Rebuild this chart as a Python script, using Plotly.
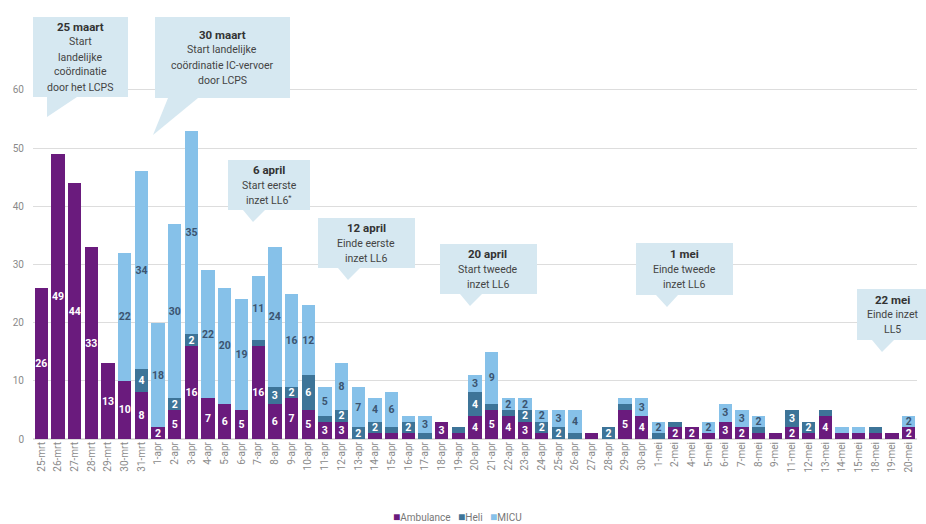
import plotly.graph_objects as go

categories = ["25-mrt", "26-mrt", "27-mrt", "28-mrt", "29-mrt", "30-mrt", "31-mrt",
              "1-apr", "2-apr", "3-apr", "4-apr", "5-apr", "6-apr", "7-apr", "8-apr", "9-apr", "10-apr",
              "11-apr", "12-apr", "13-apr", "14-apr", "15-apr", "16-apr", "17-apr", "18-apr", "19-apr", "20-apr",
              "21-apr", "22-apr", "23-apr", "24-apr", "25-apr", "26-apr", "27-apr", "28-apr", "29-apr", "30-apr",
              "1-mei", "2-mei", "4-mei", "5-mei", "6-mei", "7-mei", "8-mei", "9-mei", "11-mei", "12-mei",
              "13-mei", "14-mei", "15-mei", "18-mei", "19-mei", "20-mei"]

ambulance = [26, 49, 44, 33, 13, 10, 8,
             2, 5, 16, 7, 6, 5, 16, 6, 7, 5,
             3, 3, 0, 1, 1, 1, 0, 3, 1, 4,
             5, 4, 3, 1, 0, 0, 1, 0, 5, 4,
             0, 2, 2, 1, 3, 2, 1, 1, 2, 1,
             4, 1, 1, 1, 1, 2]

heli = [0, 0, 0, 0, 0, 0, 4,
        0, 2, 2, 0, 0, 0, 1, 3, 2, 6,
        1, 2, 2, 2, 1, 2, 1, 0, 1, 4,
        1, 1, 2, 2, 2, 1, 0, 2, 1, 0,
        1, 1, 0, 0, 0, 0, 1, 0, 3, 2,
        1, 0, 0, 1, 0, 0]

micu = [0, 0, 0, 0, 0, 22, 34,
        18, 30, 35, 22, 20, 19, 11, 24, 16, 12,
        5, 8, 7, 4, 6, 1, 3, 0, 0, 3,
        9, 2, 2, 2, 3, 4, 0, 0, 1, 3,
        2, 0, 0, 2, 3, 3, 2, 0, 0, 0,
        0, 1, 1, 0, 0, 2]

series_names = ["Ambulance", "Heli", "MICU"]
colors = ["#6a1b7d", "#3d7498", "#86c1e9"]
label_colors = ["#ffffff", "#ffffff", "#3b5470"]

callouts = [
    ("25 maart", ["Start", "landelijke", "coördinatie", "door het LCPS"]),
    ("30 maart", ["Start landelijke", "coördinatie IC-vervoer", "door LCPS"]),
    ("6 april", ["Start eerste", "inzet LL6<sup>*</sup>"]),
    ("12 april", ["Einde eerste", "inzet LL6"]),
    ("20 april", ["Start tweede", "inzet LL6"]),
    ("1 mei", ["Einde tweede", "inzet LL6"]),
    ("22 mei", ["Einde inzet", "LL5"]),
]

W, H = 926, 524
ML, MR, MT, MB = 33, 9, 87, 85
PW, PH = W - ML - MR, H - MT - MB


def px(x):
    return (x - ML) / PW


def py(y):
    return (H - MB - y) / PH


fig = go.Figure()
for name, vals, col, lc in zip(series_names, [ambulance, heli, micu], colors, label_colors):
    fig.add_trace(go.Bar(
        name=name, x=categories, y=vals, marker=dict(color=col, line=dict(width=0)),
        text=[str(v) if v >= 2 else "" for v in vals],
        textposition="inside", insidetextanchor="middle", textangle=0,
        textfont=dict(family="Roboto", size=10.5, color=lc, weight="bold"),
        hoverinfo="skip",
    ))

# callout geometry (pixel boxes: x0, y0, x1, y1, pointer base xa, xb, tip x, tip y, text center x)
geo = [
    (33, 17, 128, 97, 47, 77, 47, 117, 80),
    (155, 17, 290, 98, 168, 198, 153, 135, 222),
    (228, 160, 310, 210, 243, 265, 253, 222, 269),
    (318, 218, 415, 268, 338, 360, 348, 280, 366),
    (440, 244, 537, 294, 460, 482, 470, 306, 488),
    (636, 243, 733, 295, 656, 678, 667, 307, 684),
    (857, 289, 940, 340, 872, 894, 882, 352, 892),
]
box_color = "#d6e8f1"
shapes = []
annotations = []
for (title, lines), (x0, y0, x1, y1, xa, xb, tx, ty, cx) in zip(callouts, geo):
    shapes.append(dict(type="rect", xref="paper", yref="paper",
                       x0=px(x0), x1=px(x1), y0=py(y1), y1=py(y0),
                       fillcolor=box_color, line=dict(width=0), layer="above"))
    path = f"M {px(xa)},{py(y1)} L {px(xb)},{py(y1)} L {px(tx)},{py(ty)} Z"
    shapes.append(dict(type="path", xref="paper", yref="paper", path=path,
                       fillcolor=box_color, line=dict(width=0), layer="above"))
    n = len(lines) + 1
    lh = 15
    total = n * lh
    cy = (y0 + y1) / 2
    ytop = cy - total / 2
    annotations.append(dict(xref="paper", yref="paper", x=px(cx), y=py(ytop + lh / 2),
                            text=f"<b>{title}</b>", showarrow=False,
                            font=dict(family="Roboto", size=11.5, color="#333333"),
                            xanchor="center", yanchor="middle"))
    for i, ln in enumerate(lines):
        annotations.append(dict(xref="paper", yref="paper", x=px(cx), y=py(ytop + lh * (i + 1.5)),
                                text=ln, showarrow=False,
                                font=dict(family="Roboto", size=10.5, color="#444444"),
                                xanchor="center", yanchor="middle"))

# compact legend as text
legend_text = "&nbsp;&nbsp;&nbsp;".join(
    f"<span style='color:{c};font-size:12px'>■</span>{n}" for n, c in zip(series_names, colors))
annotations.append(dict(xref="paper", yref="paper", x=px(457), y=py(517), text=legend_text,
                        showarrow=False, xanchor="center", yanchor="middle",
                        font=dict(family="Roboto", size=10, color="#777777")))

fig.update_layout(
    width=W, height=H,
    margin=dict(l=ML, r=MR, t=MT, b=MB, autoexpand=False),
    barmode="stack", bargap=0.2,
    plot_bgcolor="white", paper_bgcolor="white",
    uniformtext=dict(minsize=10.5, mode="show"),
    showlegend=False,
    shapes=shapes, annotations=annotations,
    font=dict(family="Roboto"),
)
fig.update_xaxes(type="category", tickangle=-90, showgrid=False, showline=False, ticks="",
                 automargin=False,
                 tickfont=dict(family="Roboto", size=10, color="#8a8a8a"))
fig.update_yaxes(range=[0, 60.5], dtick=10, showgrid=True, gridcolor="#dddddd", gridwidth=1,
                 zeroline=True, zerolinecolor="#dddddd", showline=False, ticks="",
                 automargin=False,
                 tickfont=dict(family="Roboto", size=10, color="#8a8a8a"), ticklabelstandoff=8)

fig.write_html("out.html", config={"displayModeBar": False},
               post_script="document.body.style.margin='0';")
